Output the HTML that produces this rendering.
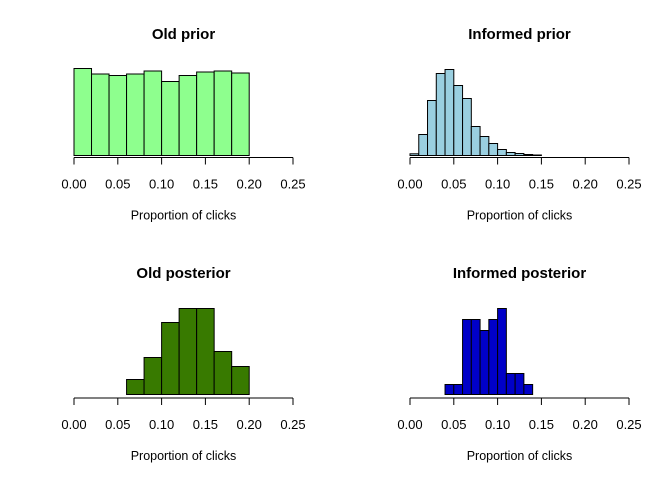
<!DOCTYPE html>
<html><head><meta charset="utf-8"><style>
body{margin:0;background:#fff}
svg text{font-family:"Liberation Sans",Arial,sans-serif;fill:#000}
</style></head><body>
<svg id="chart" width="672" height="480" xmlns="http://www.w3.org/2000/svg"></svg>
<script>
const tickLabels=["0.00","0.05","0.10","0.15","0.20","0.25"];
const tickValues=[0,0.05,0.10,0.15,0.20,0.25];
const oldPriorStart=0, oldPriorWidth=0.02;
const oldPriorCounts=[87,81.5,80,81.5,84.5,74,80,83.5,84.5,82.5];
const infPriorStart=0, infPriorWidth=0.01;
const infPriorCounts=[1.7,21,55,82,86,70,57,29,19,12,6,3,2,1,0.5];
const oldPostStart=0.06, oldPostWidth=0.02;
const oldPostCounts=[15,37,72,86,86,43,28];
const infPostStart=0.04, infPostWidth=0.01;
const infPostCounts=[10,10,75,75,64,75,86,21,21,10];

const svg=document.getElementById('chart');
const NS='http://www.w3.org/2000/svg';
function mk(tag,attrs,parent){const e=document.createElementNS(NS,tag);for(const k in attrs)e.setAttribute(k,attrs[k]);parent.appendChild(e);return e;}

function panel(name,title,start,width,counts,fill,x0,base,axisY,titleY){
  const g=mk('g',{},svg);
  
  
  const xs=v=>x0+v/0.25*219;
  const ys=c=>base-c; // 1 count unit = 1px
  const t=mk('text',{x:xs(0.125),y:titleY,'text-anchor':'middle','font-size':'15','font-weight':'bold'},g);
  t.textContent=title;
  
  
  counts.forEach((c,i)=>{
    const a=xs(start+i*width), b=xs(start+(i+1)*width);
    const r=mk('rect',{x:a,y:ys(c),width:b-a,height:base-ys(c),fill:fill,stroke:'#000','stroke-width':'1'},g);
    
    
  });
  const ax=mk('line',{x1:xs(0),x2:xs(0.25),y1:axisY,y2:axisY,stroke:'#000','stroke-width':'1'},g);
  
  
  tickValues.forEach((v,i)=>{
    mk('line',{x1:xs(v),x2:xs(v),y1:axisY,y2:axisY+7,stroke:'#000','stroke-width':'1'},g);
    const tl=mk('text',{x:xs(v),y:axisY+31,'text-anchor':'middle','font-size':'13'},g);
    tl.textContent=tickLabels[i];
    
    
  });
  const xl=mk('text',{x:xs(0.125),y:axisY+62,'text-anchor':'middle','font-size':'12.5'},g);
  xl.textContent='Proportion of clicks';
  
  
}
panel('old-prior','Old prior',oldPriorStart,oldPriorWidth,oldPriorCounts,'#8eff8e',74,155.5,157.5,39);
panel('informed-prior','Informed prior',infPriorStart,infPriorWidth,infPriorCounts,'#9acfe0',410,155.5,157.5,39);
panel('old-posterior','Old posterior',oldPostStart,oldPostWidth,oldPostCounts,'#387a00',74,394.5,398,278);
panel('informed-posterior','Informed posterior',infPostStart,infPostWidth,infPostCounts,'#0000c8',410,394.5,398,278);
</script>
</body></html>
